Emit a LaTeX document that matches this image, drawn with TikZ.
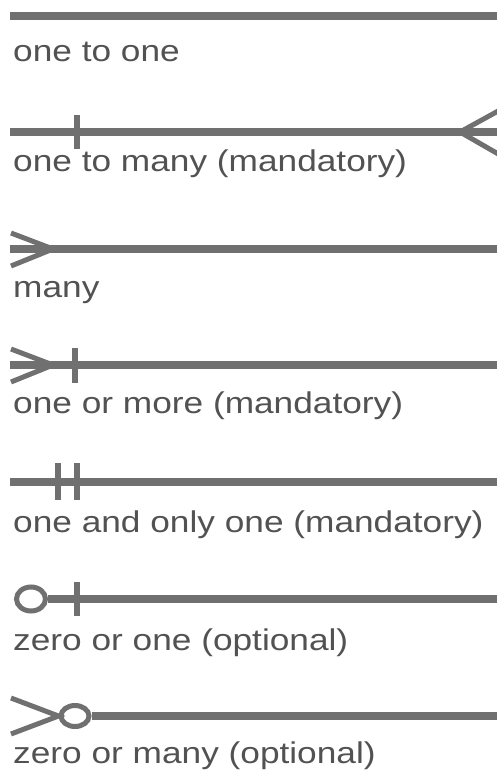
\documentclass[tikz,border=0pt]{standalone}
\usepackage{fontspec}
\setmainfont{Liberation Sans}
\usepackage{xcolor}
\usetikzlibrary{shapes.geometric}
\definecolor{relgray}{RGB}{112,112,112}
\definecolor{labelgray}{RGB}{82,82,82}

\begin{document}
\begin{tikzpicture}[
  x=1pt, y=-1pt,
  every node/.style={font=\fontsize{30}{35}\selectfont, text=labelgray},
  relline/.style={draw=relgray, line width=7.5pt},
  barline/.style={draw=relgray, line width=5.5pt},
  prong/.style={draw=relgray, line width=5pt},
  ring/.style={ellipse, draw=relgray, line width=5pt, fill=white,
               inner sep=0pt},
  caption/.style={anchor=base west, inner sep=0pt, xscale=1.175}
]
\useasboundingbox (0,0) rectangle (496,776);

% one to one
\coordinate (a1) at (10,16);
\coordinate (b1) at (500,16);
\draw[relline] (a1) -- (b1);
\node[caption] (t1) at (13,62) {one to one};

% one to many (mandatory)
\coordinate (a2) at (10,132);
\coordinate (b2) at (500,132);
\draw[relline] (a2) -- (b2);
\coordinate (s2top) at (77,115);
\coordinate (s2bot) at (77,149);
\draw[barline] (s2top) -- (s2bot);
\coordinate (f2) at (460,132);
\coordinate (f2up) at (500,110);
\coordinate (f2dn) at (500,155);
\draw[prong] (f2up) -- (f2) -- (f2dn);
\node[caption] (t2) at (13,171) {one to many (mandatory)};

% many
\coordinate (a3) at (10,249);
\coordinate (b3) at (500,249);
\draw[relline] (a3) -- (b3);
\coordinate (f3) at (53,249);
\coordinate (f3up) at (11,233);
\coordinate (f3dn) at (11,266);
\draw[prong] (f3up) -- (f3) -- (f3dn);
\node[caption] (t3) at (13,297) {many};

% one or more (mandatory)
\coordinate (a4) at (10,365);
\coordinate (b4) at (500,365);
\draw[relline] (a4) -- (b4);
\coordinate (f4) at (53,365);
\coordinate (f4up) at (11,349);
\coordinate (f4dn) at (11,382);
\draw[prong] (f4up) -- (f4) -- (f4dn);
\coordinate (s4top) at (75,348);
\coordinate (s4bot) at (75,383);
\draw[barline] (s4top) -- (s4bot);
\node[caption] (t4) at (13,413) {one or more (mandatory)};

% one and only one (mandatory)
\coordinate (a5) at (10,482);
\coordinate (b5) at (500,482);
\draw[relline] (a5) -- (b5);
\coordinate (s5top) at (58,463);
\coordinate (s5bot) at (58,500);
\draw[barline] (s5top) -- (s5bot);
\coordinate (r5top) at (77,463);
\coordinate (r5bot) at (77,500);
\draw[barline] (r5top) -- (r5bot);
\node[caption] (t5) at (13,532) {one and only one (mandatory)};

% zero or one (optional)
\node[ring, minimum width=29pt, minimum height=24pt] (o6) at (31,599) {};
\coordinate (b6) at (500,599);
\draw[relline] (o6.east) -- (b6);
\coordinate (s6top) at (77,582);
\coordinate (s6bot) at (77,616);
\draw[barline] (s6top) -- (s6bot);
\node[caption] (t6) at (13,650) {zero or one (optional)};

% zero or many (optional)
\node[ring, minimum width=28pt, minimum height=21pt] (o7) at (75,716) {};
\coordinate (b7) at (500,716);
\draw[relline] (o7.east) -- (b7);
\coordinate (f7up) at (11,698);
\coordinate (f7dn) at (11,734);
\draw[prong] (f7up) -- (o7.west) -- (f7dn);
\node[caption] (t7) at (13,763) {zero or many (optional)};
\end{tikzpicture}
\end{document}
